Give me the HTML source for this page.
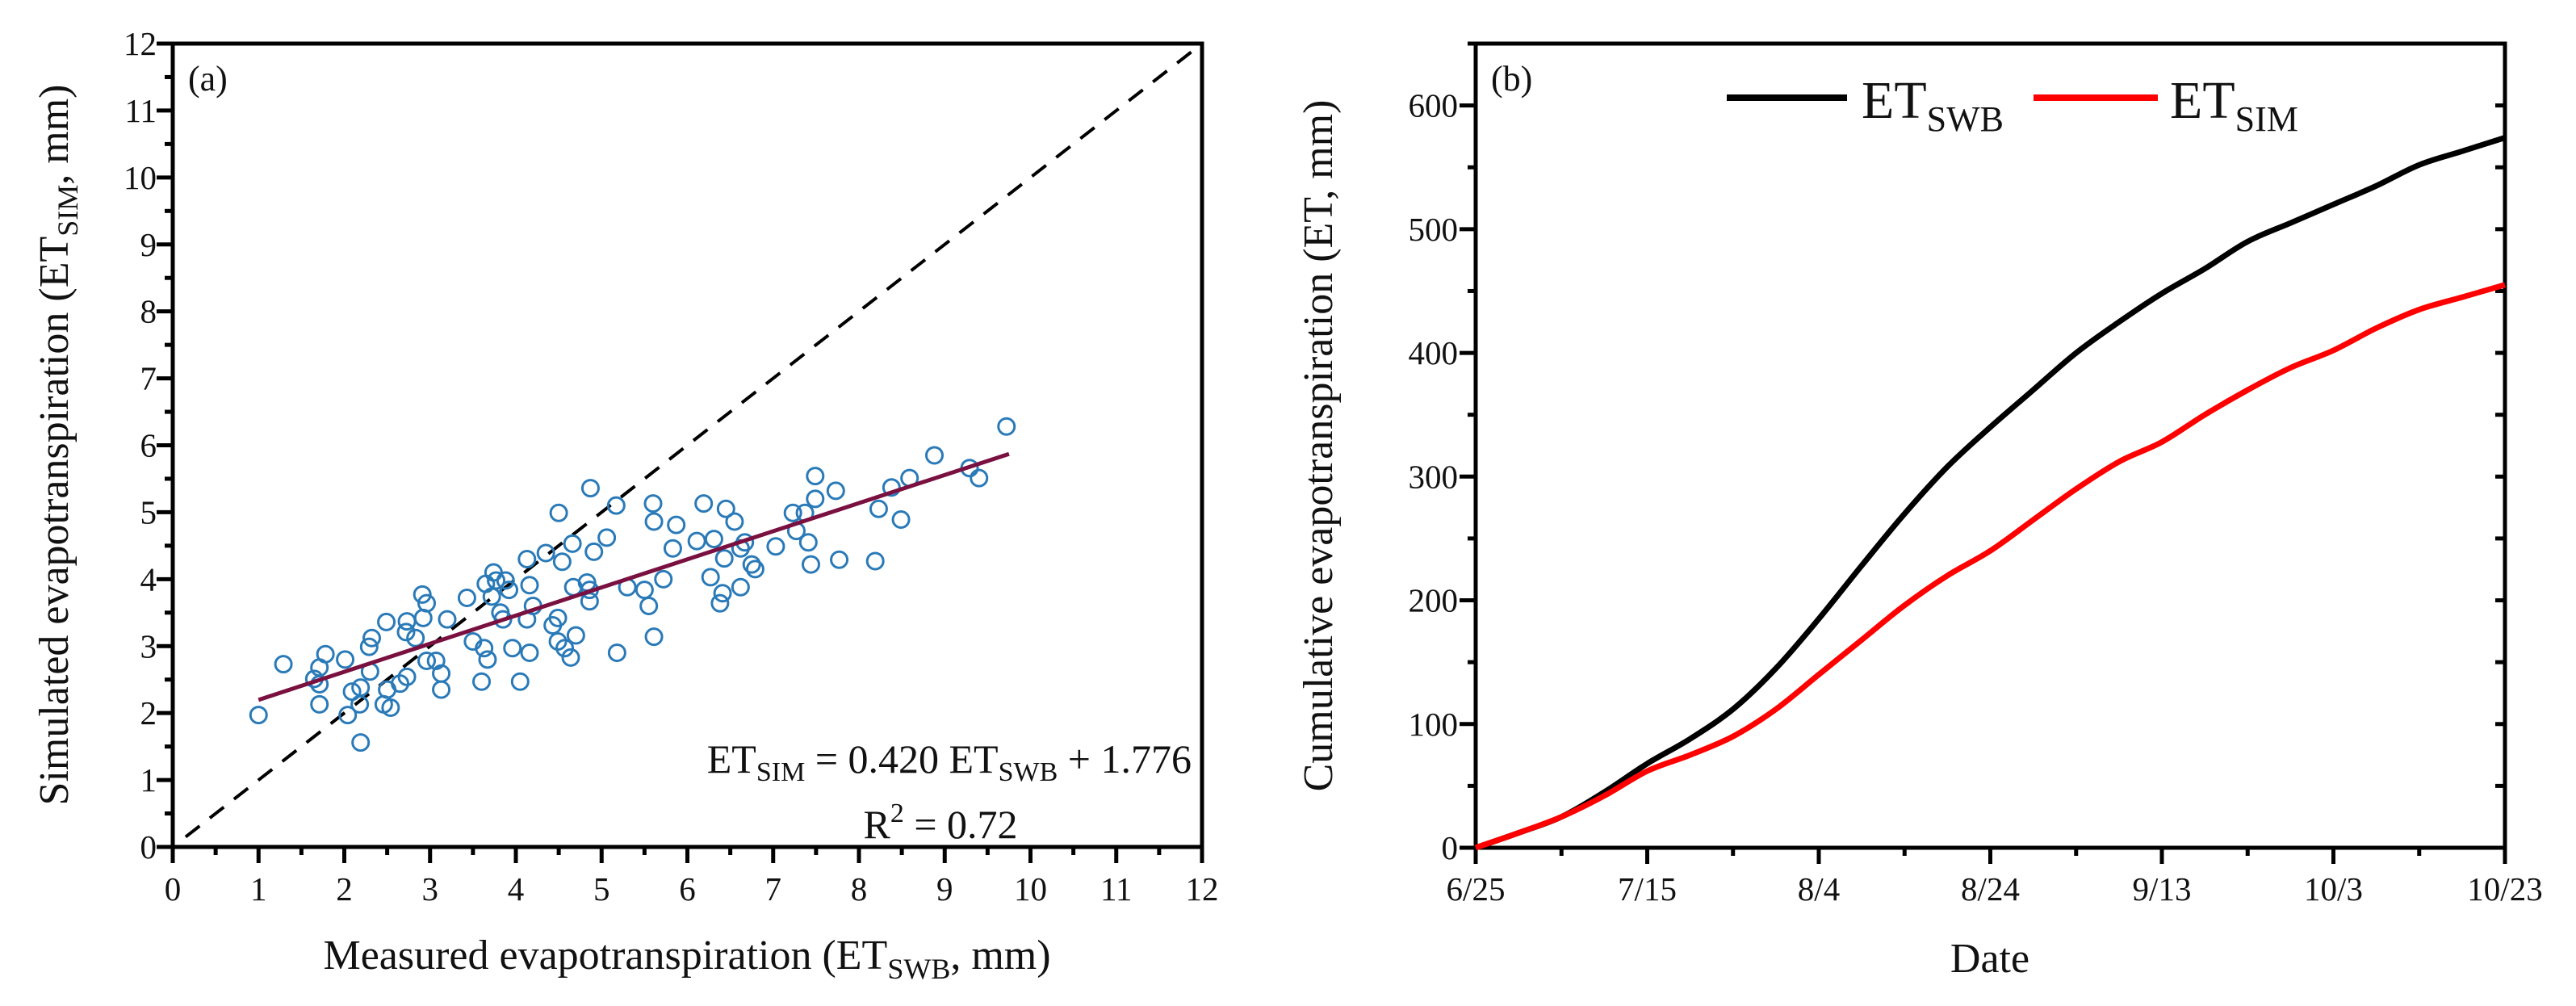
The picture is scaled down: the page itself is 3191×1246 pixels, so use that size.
<!DOCTYPE html>
<html><head><meta charset="utf-8"><style>
html,body{margin:0;padding:0;background:#fff;}
svg{display:block;font-family:"Liberation Serif",serif;}
</style></head><body>
<svg id="fig" width="3191" height="1246" viewBox="0 0 3191 1246" xmlns="http://www.w3.org/2000/svg">
<g id="pa"></g>
<g id="pb"></g>
</svg>
<script>
// Panel (a) scatter data
const measuredET = [1.0,1.29,1.65,1.71,1.71,1.71,1.78,2.01,2.04,2.09,2.18,2.19,2.19,2.29,2.32,2.30,2.49,2.46,2.54,2.50,2.65,2.72,2.73,2.73,2.83,2.91,2.92,2.96,2.96,3.07,3.13,3.13,3.20,3.43,3.50,3.60,3.63,3.67,3.65,3.74,3.77,3.72,3.82,3.85,3.88,3.92,3.96,4.05,4.13,4.13,4.16,4.16,4.20,4.35,4.43,4.49,4.49,4.50,4.54,4.57,4.66,4.64,4.67,4.70,4.83,4.86,4.86,4.87,4.91,5.06,5.17,5.18,5.30,5.50,5.55,5.60,5.61,5.61,5.72,5.83,5.87,6.11,6.19,6.27,6.31,6.38,6.41,6.43,6.45,6.55,6.62,6.62,6.67,6.75,6.79,7.03,7.23,7.27,7.37,7.41,7.44,7.49,7.49,7.73,7.77,8.19,8.23,8.38,8.49,8.59,8.88,9.29,9.40,9.72];
const simulatedET = [1.97,2.73,2.51,2.68,2.43,2.13,2.88,2.80,1.97,2.32,2.13,2.38,1.56,2.99,3.12,2.62,3.36,2.13,2.08,2.35,2.44,3.21,3.37,2.54,3.12,3.77,3.42,3.64,2.78,2.78,2.59,2.35,3.40,3.72,3.07,2.47,2.97,2.80,3.93,4.10,3.98,3.74,3.50,3.40,3.98,3.84,2.97,2.47,3.40,4.30,3.91,2.90,3.60,4.39,3.31,3.42,3.07,4.99,4.26,2.97,4.53,2.83,3.88,3.16,3.95,3.84,3.67,5.36,4.41,4.62,5.10,2.90,3.88,3.84,3.60,5.13,4.86,3.14,4.00,4.46,4.81,4.57,5.13,4.03,4.60,3.64,3.79,4.31,5.05,4.86,3.88,4.46,4.55,4.22,4.15,4.49,4.99,4.72,4.99,4.55,4.22,5.20,5.54,5.32,4.29,4.27,5.05,5.37,4.89,5.51,5.85,5.66,5.51,6.28];
const fitSlope = 0.420, fitIntercept = 1.776, fitXRange = [1.0, 9.75];
const axisATicks = [0,1,2,3,4,5,6,7,8,9,10,11,12];
// Panel (b) data: day offsets from 6/25
const days = [0,5,10,15,20,25,30,35,40,45,50,55,60,65,70,75,80,85,90,95,100,105,110,115,120];
const etSWB = [0,12,25,45,68,88,112,145,185,228,270,308,340,370,400,425,448,468,490,505,520,535,552,563,574];
const etSIM = [0,12,25,42,62,75,90,112,140,168,196,220,240,265,290,312,328,350,370,388,402,420,435,445,455];
const dateTickDays = [0,20,40,60,80,100,120];
const dateTickLabels = ["6/25","7/15","8/4","8/24","9/13","10/3","10/23"];
const etTicks = [0,100,200,300,400,500,600];

const NS="http://www.w3.org/2000/svg";
function mk(parent,tag,attrs,text){const e=document.createElementNS(NS,tag);for(const k in attrs)e.setAttribute(k,attrs[k]);if(text!==undefined)e.textContent=text;parent.appendChild(e);return e;}

// ---------- Panel A ----------
const pa=document.getElementById('pa');
const AX0=214,AX1=1489,AY0=1049,AY1=54;
const ax=v=>AX0+(v/12)*(AX1-AX0);
const ay=v=>AY0-(v/12)*(AY0-AY1);
let r=mk(pa,'rect',{x:AX0,y:AY1,width:AX1-AX0,height:AY0-AY1,fill:'none',stroke:'#000','stroke-width':5});


for(let i=0;i<=24;i++){const v=i/2,maj=i%2===0,L=maj?20:10;
 let t=mk(pa,'line',{x1:ax(v),x2:ax(v),y1:AY0,y2:AY0+L,stroke:'#000','stroke-width':5});
 
 
 let t2=mk(pa,'line',{x1:AX0,x2:AX0-L,y1:ay(v),y2:ay(v),stroke:'#000','stroke-width':5});
 
 
}
axisATicks.forEach(v=>{
 let l=mk(pa,'text',{x:ax(v),y:1115,'font-size':41,'text-anchor':'middle',fill:'#111'},String(v));
 
 
 let l2=mk(pa,'text',{x:194,y:ay(v)+14,'font-size':41,'text-anchor':'end',fill:'#111'},String(v));
 
 
});
let d=mk(pa,'line',{x1:ax(0.15),y1:ay(0.15),x2:ax(12),y2:ay(12),stroke:'#000','stroke-width':4,'stroke-dasharray':'22,16'});


measuredET.forEach((x,i)=>{
 let c=mk(pa,'circle',{cx:ax(x),cy:ay(simulatedET[i]),r:10,fill:'none',stroke:'#2a7ab8','stroke-width':3});
 
 
});
let fl=mk(pa,'line',{x1:ax(fitXRange[0]),y1:ay(fitSlope*fitXRange[0]+fitIntercept),x2:ax(fitXRange[1]),y2:ay(fitSlope*fitXRange[1]+fitIntercept),stroke:'#7a1040','stroke-width':5});



// ---------- Panel B ----------
const pb=document.getElementById('pb');
const BX0=1828,BX1=3103,BY0=1050,BY1=54;
const bx=v=>BX0+(v/120)*(BX1-BX0);
const by=v=>BY0-(v/650)*(BY0-BY1);
let rb=mk(pb,'rect',{x:BX0,y:BY1,width:BX1-BX0,height:BY0-BY1,fill:'none',stroke:'#000','stroke-width':5});


for(let d2=0;d2<=120;d2+=10){const maj=d2%20===0,L=maj?20:10;
 let t=mk(pb,'line',{x1:bx(d2),x2:bx(d2),y1:BY0,y2:BY0+L,stroke:'#000','stroke-width':5});
 
 
}
for(let v=0;v<=650;v+=50){const maj=v%100===0,L=maj?20:10;
 let t=mk(pb,'line',{x1:BX0,x2:BX0-L,y1:by(v),y2:by(v),stroke:'#000','stroke-width':5});
 
 
 let t2=mk(pb,'line',{x1:BX1,x2:BX1-12,y1:by(v),y2:by(v),stroke:'#000','stroke-width':5});
 
 
}
dateTickDays.forEach((v,i)=>{
 let l=mk(pb,'text',{x:bx(v),y:1115,'font-size':41,'text-anchor':'middle',fill:'#111'},dateTickLabels[i]);
 
 
});
etTicks.forEach(v=>{
 let l=mk(pb,'text',{x:1806,y:by(v)+14,'font-size':41,'text-anchor':'end',fill:'#111'},String(v));
 
 
});
function smoothPath(arr){
 const P=days.map((dd,i)=>[bx(dd),by(arr[i])]);
 let s='M'+P[0][0].toFixed(1)+','+P[0][1].toFixed(1);
 for(let i=0;i<P.length-1;i++){
  const p0=P[Math.max(0,i-1)],p1=P[i],p2=P[i+1],p3=P[Math.min(P.length-1,i+2)];
  const c1=[p1[0]+(p2[0]-p0[0])/6,p1[1]+(p2[1]-p0[1])/6];
  const c2=[p2[0]-(p3[0]-p1[0])/6,p2[1]-(p3[1]-p1[1])/6];
  s+=' C'+c1[0].toFixed(1)+','+c1[1].toFixed(1)+' '+c2[0].toFixed(1)+','+c2[1].toFixed(1)+' '+p2[0].toFixed(1)+','+p2[1].toFixed(1);
 }
 return s;
}
let p1=mk(pb,'path',{d:smoothPath(etSWB),fill:'none',stroke:'#000','stroke-width':7,'stroke-linejoin':'round'});


let p2=mk(pb,'path',{d:smoothPath(etSIM),fill:'none',stroke:'#f00','stroke-width':7,'stroke-linejoin':'round'});


</script>
<svg style="position:absolute;left:0;top:0" width="3191" height="1246" viewBox="0 0 3191 1246" xmlns="http://www.w3.org/2000/svg" font-family="Liberation Serif, serif" fill="#111">
<text x="233" y="112" font-size="44">(a)</text>
<text x="1476" y="957" font-size="50" text-anchor="end">ET<tspan font-size="34" dy="10">SIM</tspan><tspan dy="-10"> = 0.420 ET</tspan><tspan font-size="34" dy="10">SWB</tspan><tspan dy="-10"> + 1.776</tspan></text>
<text x="1165" y="1038" font-size="50" text-anchor="middle">R<tspan font-size="34" dy="-20">2</tspan><tspan dy="20"> = 0.72</tspan></text>
<text x="851" y="1200" font-size="52" text-anchor="middle">Measured evapotranspiration (ET<tspan font-size="36" dy="12">SWB</tspan><tspan dy="-12">, mm)</tspan></text>
<text transform="translate(84,551) rotate(-90)" font-size="52" text-anchor="middle">Simulated evapotranspiration (ET<tspan font-size="36" dy="12">SIM</tspan><tspan dy="-12">, mm)</tspan></text>
<text x="1847" y="112" font-size="44">(b)</text>
<line x1="2139" y1="121" x2="2288" y2="121" stroke="#000" stroke-width="8"/>
<text x="2306" y="146" font-size="66">ET<tspan font-size="44" dy="16">SWB</tspan></text>
<line x1="2519" y1="121" x2="2673" y2="121" stroke="#f00" stroke-width="8"/>
<text x="2688" y="146" font-size="66">ET<tspan font-size="44" dy="16">SIM</tspan></text>
<text x="2465" y="1204" font-size="52" text-anchor="middle">Date</text>
<text transform="translate(1650,552) rotate(-90)" font-size="52" text-anchor="middle">Cumulative evapotranspiration (ET, mm)</text>
</svg>
</body></html>
